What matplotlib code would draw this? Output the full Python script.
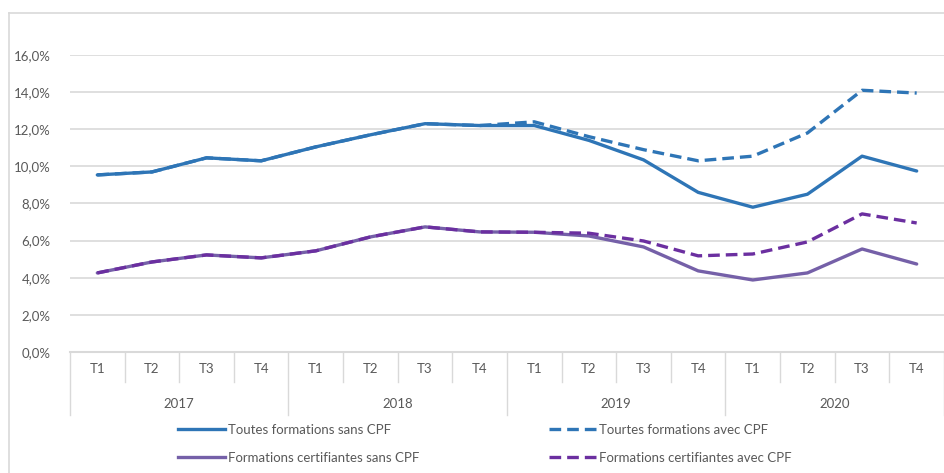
import numpy as np
import matplotlib
matplotlib.use("Agg")
import matplotlib.pyplot as plt
import matplotlib.ticker as ticker
from matplotlib.lines import Line2D

plt.rcParams['font.family'] = ['Liberation Sans Narrow', 'Lato', 'DejaVu Sans']

years = ["2017", "2018", "2019", "2020"]
quarters = ["T1", "T2", "T3", "T4"]

toutes_sans = [9.54, 9.7, 10.46, 10.3, 11.05, 11.7, 12.3, 12.2,
               12.2, 11.4, 10.35, 8.6, 7.8, 8.5, 10.55, 9.75]
toutes_avec = [9.54, 9.7, 10.46, 10.3, 11.05, 11.7, 12.3, 12.2,
               12.4, 11.6, 10.9, 10.3, 10.55, 11.8, 14.1, 13.95]
certif_sans = [4.26, 4.85, 5.23, 5.07, 5.45, 6.2, 6.74, 6.47,
               6.45, 6.25, 5.66, 4.37, 3.88, 4.26, 5.55, 4.74]
certif_avec = [4.26, 4.85, 5.23, 5.07, 5.45, 6.2, 6.74, 6.47,
               6.45, 6.4, 5.98, 5.18, 5.28, 5.93, 7.44, 6.95]

labels = [
    "Toutes formations sans CPF",
    "Tourtes formations avec CPF",
    "Formations certifiantes sans CPF",
    "Formations certifiantes avec CPF",
]

blue = "#2E75B6"
purple = "#7560A8"
purple_dark = "#6B2FA0"
text_col = "#595959"
grid_col = "#D9D9D9"
fs = 9.5

W, H = 945, 473
fig = plt.figure(figsize=(W / 100, H / 100), dpi=100)
ax_left, ax_right, ax_top, ax_bottom = 70, 944, 55, 352
ax = fig.add_axes([ax_left / W, 1 - ax_bottom / H,
                   (ax_right - ax_left) / W, (ax_bottom - ax_top) / H])

n = len(toutes_sans)
x = np.arange(n)
dash = (3.5, 1.8)

ax.plot(x, toutes_sans, color=blue, lw=2.4, solid_capstyle="round", zorder=3)
ax.plot(x, toutes_avec, color=blue, lw=2.4, ls=(0, dash), zorder=4)
ax.plot(x, certif_sans, color=purple, lw=2.4, solid_capstyle="round", zorder=3)
ax.plot(x, certif_avec, color=purple_dark, lw=2.4, ls=(0, dash), zorder=4)

ax.set_xlim(-0.5, n - 0.5)
ax.set_ylim(0, 16)
ax.set_yticks(np.arange(0, 17, 2))
ax.yaxis.set_major_formatter(ticker.FuncFormatter(lambda v, p: f"{v:.1f}%".replace(".", ",")))
ax.tick_params(axis="y", length=0, labelsize=fs, labelcolor=text_col, pad=14)
ax.grid(axis="y", color=grid_col, lw=1.2)
ax.set_axisbelow(True)
for s in ax.spines.values():
    s.set_visible(False)

# multi-level category axis
ax.set_xticks([])
ax_h = ax_bottom - ax_top
trans = ax.get_xaxis_transform()
ax.plot([-0.5, n - 0.5], [0, 0], color=grid_col, lw=1.5, transform=trans, clip_on=False)
for i in range(n + 1):
    length = 63 / ax_h if i % 4 == 0 else 30 / ax_h
    ax.plot([i - 0.5, i - 0.5], [0, -length], color=grid_col, lw=1.0,
            transform=trans, clip_on=False)
for i in range(n):
    ax.text(i, -17 / ax_h, quarters[i % 4], transform=trans, ha="center", va="center",
            fontsize=fs, color=text_col)
for j, yr in enumerate(years):
    ax.text(j * 4 + 1.5, -52 / ax_h, yr, transform=trans, ha="center", va="center",
            fontsize=fs, color=text_col)

# outer chart border
fig.add_artist(Line2D([9 / W, 9 / W], [0, 1 - 13 / H], color="#D9D9D9", lw=1.2))
fig.add_artist(Line2D([9 / W, 1], [1 - 13 / H, 1 - 13 / H], color="#D9D9D9", lw=1.2))

handles = [
    Line2D([], [], color=blue, lw=2.4),
    Line2D([], [], color=purple, lw=2.4),
    Line2D([], [], color=blue, lw=2.4, ls=(0, dash)),
    Line2D([], [], color=purple_dark, lw=2.4, ls=(0, dash)),
]
leg_labels = [labels[0], labels[2], labels[1], labels[3]]
fig.legend(handles, leg_labels, ncol=2, loc="center left",
           bbox_to_anchor=(166 / W, 1 - 444 / H), frameon=False,
           fontsize=fs, handlelength=3.6, handletextpad=0.2,
           columnspacing=9.8, labelspacing=1.2, labelcolor=text_col)

fig.savefig("out.png", dpi=100)
